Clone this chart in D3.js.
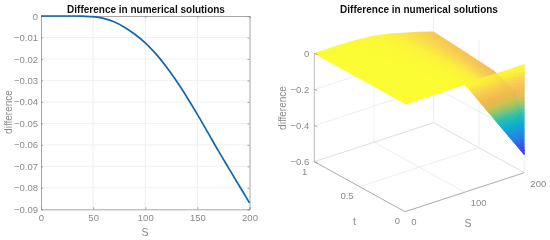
<!DOCTYPE html>
<html><head><meta charset="utf-8">
<script src="https://cdn.jsdelivr.net/npm/d3@7"></script>
<style>html,body{margin:0;padding:0;background:#fff}svg{display:block;filter:blur(0.35px)}text{font-family:"Liberation Sans",Arial,sans-serif}</style>
</head><body><svg id="c" width="550" height="240"></svg>
<script>
const titleText = "Difference in numerical solutions";
const lineS = [0,10,20,30,40,50,60,70,80,90,100,110,120,130,140,150,160,170,180,190,200];
const lineDiff = [0,0,0,0,-0.0001,-0.0003,-0.0011,-0.0027,-0.0052,-0.0085,-0.0125,-0.0175,-0.0235,-0.0303,-0.0378,-0.0458,-0.0542,-0.0627,-0.0708,-0.0789,-0.0870];
const xTicks2D = [0,50,100,150,200];
const yTicks2D = [0,-0.01,-0.02,-0.03,-0.04,-0.05,-0.06,-0.07,-0.08,-0.09];
const gridS = [0,25,50,75,100,125,150,175,200];
const gridT = [0,0.001,0.03,0.1,0.33,0.66,1];
const gridZ = [
 [0,0,0,0,0,0,0,0,0],
 [0,0,0,0,0,-0.125,-0.25,-0.375,-0.5],
 [0,0,0,0,-0.002,-0.035,-0.09,-0.17,-0.28],
 [0,0,0,0,-0.003,-0.025,-0.06,-0.11,-0.175],
 [0,0,0,-0.001,-0.006,-0.022,-0.05,-0.088,-0.13],
 [0,0,0,-0.002,-0.009,-0.024,-0.05,-0.08,-0.113],
 [0,0,-0.0003,-0.004,-0.0125,-0.028,-0.05,-0.072,-0.097]
];
const sTicks3D = [0,100,200], tTicks3D = [0,0.5,1], zTicks3D = [0,-0.2,-0.4,-0.6];
const colorZ = [0,-0.03,-0.08,-0.14,-0.18,-0.22,-0.27,-0.32,-0.40,-0.46,-0.5];
const colorHex = ["#fbfb30","#fbf03a","#f8d050","#f4b850","#d8c050","#90c870","#30c0b0","#10b0d0","#2a80e8","#4050e8","#5030c8"];

const svg = d3.select("#c");
const gray="#8f8f8f", txt="#8a8a8a";

// ---- 2D panel
const x = d3.scaleLinear().domain([0,200]).range([41,249.5]);
const y = d3.scaleLinear().domain([-0.09,0]).range([209.3,16]);
const L = svg.append("g");
L.append("g").selectAll("line").data(xTicks2D.slice(1,-1)).join("line")
 .attr("x1",d=>x(d)).attr("x2",d=>x(d)).attr("y1",y(-0.09)).attr("y2",y(0)).attr("stroke","#eeeeee");
L.append("g").selectAll("line").data(yTicks2D.slice(1,-1)).join("line")
 .attr("x1",x(0)).attr("x2",x(200)).attr("y1",d=>y(d)).attr("y2",d=>y(d)).attr("stroke","#f1f1f1");
L.append("g").attr("transform",`translate(0,${y(-0.09)})`).call(d3.axisBottom(x).tickValues(xTicks2D).tickSize(-2).tickPadding(5).tickFormat(d3.format("d")));
L.append("g").attr("transform",`translate(${x(0)},0)`).call(d3.axisLeft(y).tickValues(yTicks2D).tickSize(-2).tickPadding(3).tickFormat(d=>d===0?"0":d3.format(".2f")(d)));
L.append("g").attr("transform",`translate(0,${y(0)})`).call(d3.axisTop(x).tickValues(xTicks2D).tickSize(-2).tickFormat(""));
L.append("g").attr("transform",`translate(${x(200)},0)`).call(d3.axisRight(y).tickValues(yTicks2D).tickSize(-2).tickFormat(""));
L.selectAll(".domain,.tick line").attr("stroke",gray).attr("stroke-width",0.8);
L.selectAll(".tick text").attr("fill",txt).attr("font-size",9.5).attr("font-family",null);
L.append("path").datum(lineS.map((s,i)=>[s,lineDiff[i]]))
 .attr("fill","none").attr("stroke","#0f68ad").attr("stroke-width",1.7)
 .attr("d",d3.line().x(d=>x(d[0])).y(d=>y(d[1])).curve(d3.curveCatmullRom));
L.append("text").attr("x",146).attr("y",12.5).attr("text-anchor","middle").attr("font-size",10).attr("font-weight","bold").attr("fill","#111").text(titleText);
L.append("text").attr("x",145).attr("y",236).attr("text-anchor","middle").attr("font-size",10.5).attr("fill",txt).text("S");
L.append("text").attr("transform","translate(12,112) rotate(-90)").attr("text-anchor","middle").attr("font-size",10).attr("fill",txt).text("difference");

// ---- 3D panel: oblique projection built from per-axis linear scales
const sX=d3.scaleLinear().domain([0,200]).range([0,119.3]);
const sY=d3.scaleLinear().domain([0,200]).range([0,-39]);
const tX=d3.scaleLinear().domain([0,1]).range([0,-90.7]);
const tY=d3.scaleLinear().domain([0,1]).range([0,-50]);
const zY=d3.scaleLinear().domain([-0.6,0]).range([0,-108.3]);
const P=(s,t,z)=>[405+sX(s)+tX(t), 211.7+sY(s)+tY(t)+zY(z)];
const color=d3.scaleLinear().domain(colorZ).range(colorHex).clamp(true);
const R=svg.append("g");
const seg=(a,b,c,w=0.8)=>R.append("line").attr("x1",a[0]).attr("y1",a[1]).attr("x2",b[0]).attr("y2",b[1]).attr("stroke",c).attr("stroke-width",w);
const faint="#e9e9e9";
sTicks3D.forEach(s=>{ seg(P(s,0,-0.6),P(s,1,-0.6),s===200?"#d6d6d6":faint); if(s>0) seg(P(s,1,-0.6),P(s,1,0),faint);});
tTicks3D.forEach(t=>{ seg(P(0,t,-0.6),P(200,t,-0.6),t===1?"#d6d6d6":faint); if(t<1) seg(P(200,t,-0.6),P(200,t,0),faint);});
zTicks3D.slice(1,3).forEach(z=>{ seg(P(0,1,z),P(200,1,z),faint); seg(P(200,1,z),P(200,0,z),faint);});
seg(P(200,1,0),[P(200,1,0)[0],P(200,1,0)[1]-16],faint);
// surface: back-to-front, each grid cell shaded through small patches
const surf=R.append("g");
const N=8;
const patches=[];
for(let j=gridT.length-2;j>=1;j--){
  for(let i=0;i<gridS.length-1;i++){
    for(let b=N-1;b>=0;b--) for(let a=0;a<N;a++){
      const bil=(u,v)=>{
        const s=gridS[i]+(gridS[i+1]-gridS[i])*u, t=gridT[j]+(gridT[j+1]-gridT[j])*v;
        const z=d3.interpolateNumber(d3.interpolateNumber(gridZ[j][i],gridZ[j][i+1])(u),d3.interpolateNumber(gridZ[j+1][i],gridZ[j+1][i+1])(u))(v);
        return [s,t,z];};
      patches.push([[a/N,b/N],[(a+1)/N,b/N],[(a+1)/N,(b+1)/N],[a/N,(b+1)/N]].map(q=>bil(q[0],q[1])));
    }
  }
}
const fillOf=c=>color(d3.mean(c,q=>q[2]));
const drawPatches=(g,data,sw)=>g.selectAll("path").data(data).join("path")
 .attr("d",c=>"M"+c.map(q=>P(...q)).join("L")+"Z")
 .attr("fill",fillOf).attr("stroke",fillOf).attr("stroke-width",sw);
drawPatches(surf.append("g"),patches,0.6);
// the steep ribbon between the first two t rows, split by height
const ribbon=[];
for(let i=0;i<gridS.length-1;i++){
  const s0=gridS[i],s1=gridS[i+1],lo0=gridZ[1][i],lo1=gridZ[1][i+1];
  for(let a=0;a<8;a++)for(let b=0;b<24;b++){
    const u0=a/8,u1=(a+1)/8,v0=b/24,v1=(b+1)/24;
    const sa=s0+(s1-s0)*u0,sb=s0+(s1-s0)*u1,la=lo0+(lo1-lo0)*u0,lb=lo0+(lo1-lo0)*u1;
    ribbon.push([[sa,0,la*v0],[sb,0,lb*v0],[sb,0,lb*v1],[sa,0,la*v1]]);
  }
}
drawPatches(surf.append("g"),ribbon,0.5);
// the far sheet shows faintly through the ribbon
drawPatches(surf.append("g").attr("opacity",0.22),patches,0.6);
// front axes
seg(P(0,1,-0.6),P(0,1,0),"#a8a8a8");
seg(P(0,0,-0.6),P(200,0,-0.6),"#a0a0a0");
seg(P(0,0,-0.6),P(0,1,-0.6),"#a0a0a0");
const lab=(p,t,anchor="middle",fs=9.5)=>R.append("text").attr("x",p[0]).attr("y",p[1]).attr("text-anchor",anchor).attr("font-size",fs).attr("fill",txt).text(t);
zTicks3D.forEach(z=>{const p=P(0,1,z);lab([p[0]-5,p[1]+3.5],z===0?"0":d3.format(".1f")(z),"end");seg(p,[p[0]+3,p[1]+1],gray);});
sTicks3D.forEach(s=>{const p=P(s,0,-0.6);lab([p[0]+(s===0?9:14),p[1]+(s===0?13:14)],String(s));});
tTicks3D.forEach(t=>{const p=P(0,t,-0.6);lab([p[0]-(t===1?7:(t===0.5?6:5)),p[1]+(t===1?13.5:12)],String(t),"end");});
lab([468,227],"S","middle",10.5);
lab([354.5,225],"t","middle",10.5);
R.append("text").attr("transform","translate(286,108) rotate(-90)").attr("text-anchor","middle").attr("font-size",10).attr("fill",txt).text("difference");
R.append("text").attr("x",419).attr("y",12.5).attr("text-anchor","middle").attr("font-size",10).attr("font-weight","bold").attr("fill","#111").text(titleText);
</script></body></html>
